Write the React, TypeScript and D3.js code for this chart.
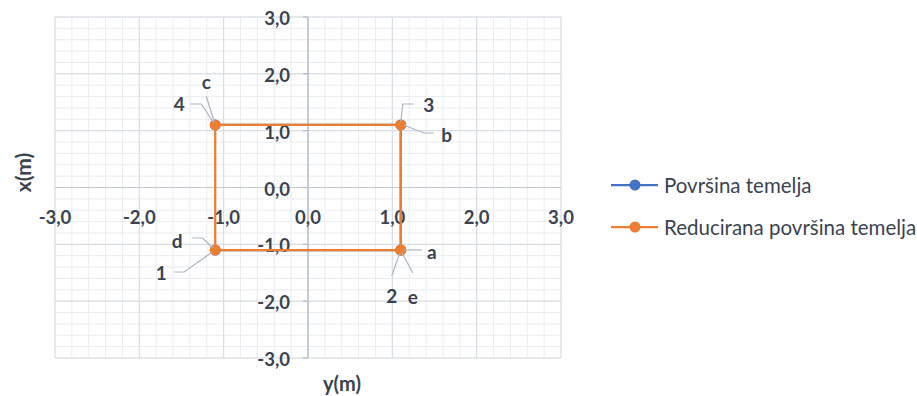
import React, { useEffect } from "react";
import * as d3 from "d3";

const ticks = [-3, -2, -1, 0, 1, 2, 3];
const tickLabels = ["-3,0", "-2,0", "-1,0", "0,0", "1,0", "2,0", "3,0"];

const seriesNames = ["Površina temelja", "Reducirana površina temelja"];

const blueX = [-1.1, 1.1, 1.1, -1.1];
const blueY = [-1.1, -1.1, 1.1, 1.1];
const blueLabels = ["1", "2", "3", "4"];

const orangeX = [1.1, 1.1, -1.1, -1.1, 1.1];
const orangeY = [-1.1, 1.1, 1.1, -1.1, -1.1];
const orangeLabels = ["a", "b", "c", "d", "e"];

// label layout (text offset + leader path offsets), relative to the point
const blueLabelLayout = [
  { tx: -54, ty: 22, path: [[-41, 22], [-31, 22], [-3, 2]] },
  { tx: -9, ty: 45, path: [[-9, 26], [-1, 3]] },
  { tx: 28, ty: -20, path: [[13, -21], [2, -21], [0, -3]] },
  { tx: -36, ty: -21, path: [[-25, -21], [-14, -21], [-2, -3]] },
];
const orangeLabelLayout = [
  { tx: 31, ty: 1, path: [[21, 0], [3, 0]] },
  { tx: 46, ty: 10, path: [[33, 8], [23, 8], [3, 0]] },
  { tx: -9, ty: -43, path: [[-9, -29], [-1, -3]] },
  { tx: -38, ty: -10, path: [[-23, -12], [-13, -12], [-2, -2]] },
  { tx: 12, ty: 46, path: [[12, 23], [1, 2]] },
];

const W = 917;
const H = 396;
const plot = { left: 55, right: 561, top: 17, bottom: 358 };
const textColor = "#3b4350";
const font = "Lato, 'Open Sans', sans-serif";
const BLUE = "#4472C4";
const ORANGE = "#ED7D31";
const LEADER = "#aeb6c1";

export default function App() {
  useEffect(() => {
    document.body.style.margin = "0";
  }, []);

  const x = d3.scaleLinear().domain([-3, 3]).range([plot.left, plot.right]);
  const y = d3.scaleLinear().domain([-3, 3]).range([plot.bottom, plot.top]);
  const minor = d3.range(-3, 3.0001, 0.2).map((v) => Math.round(v * 10) / 10);

  const line = d3
    .line<[number, number]>()
    .x((d) => x(d[0]))
    .y((d) => y(d[1]));

  const bluePts: [number, number][] = blueX.map((v, i) => [v, blueY[i]]);
  const orangePts: [number, number][] = orangeX.map((v, i) => [v, orangeY[i]]);

  const renderLabels = (
    pts: [number, number][],
    labels: string[],
    layout: { tx: number; ty: number; path: number[][] }[],
    key: string
  ) =>
    pts.map((p, i) => {
      const px = x(p[0]);
      const py = y(p[1]);
      const l = layout[i];
      const pathD =
        "M" + l.path.map((q) => `${px + q[0]},${py + q[1]}`).join("L");
      return (
        <g key={key + i}>
          <path d={pathD} fill="none" stroke={LEADER} strokeWidth={1.2} />
          <text
            x={px + l.tx}
            y={py + l.ty}
            textAnchor="middle"
            dominantBaseline="central"
            fontSize={19}
            fontWeight={700}
            fill={textColor}
            fontFamily={font}
          >
            {labels[i]}
          </text>
        </g>
      );
    });

  return (
    <svg width={W} height={H} style={{ display: "block", background: "#fff" }}>
      {/* minor grid */}
      {minor.map((v) => (
        <g key={"m" + v}>
          <line x1={x(v)} x2={x(v)} y1={plot.top} y2={plot.bottom} stroke="#e9ecf0" strokeWidth={1} />
          <line x1={plot.left} x2={plot.right} y1={y(v)} y2={y(v)} stroke="#e9ecf0" strokeWidth={1} />
        </g>
      ))}
      {/* major grid */}
      {ticks.map((v) => (
        <g key={"M" + v}>
          <line x1={x(v)} x2={x(v)} y1={plot.top} y2={plot.bottom} stroke="#d6dbe2" strokeWidth={1} />
          <line x1={plot.left} x2={plot.right} y1={y(v)} y2={y(v)} stroke="#d6dbe2" strokeWidth={1} />
        </g>
      ))}
      {/* axes */}
      <line x1={x(0)} x2={x(0)} y1={plot.top} y2={plot.bottom} stroke="#b4bcc8" strokeWidth={1.3} />
      <line x1={plot.left} x2={plot.right} y1={y(0)} y2={y(0)} stroke="#c4cad3" strokeWidth={1.2} />
      {ticks.map((v) => (
        <line key={"yt" + v} x1={x(0) - 5} x2={x(0)} y1={y(v)} y2={y(v)} stroke="#b4bcc8" strokeWidth={1.3} />
      ))}
      {ticks.map((v, i) => (
        <text
          key={"xl" + v}
          x={x(v)}
          y={y(0) + 29}
          textAnchor="middle"
          dominantBaseline="central"
          fontSize={18.5}
          fontWeight={700}
          fill={textColor}
          fontFamily={font}
        >
          {tickLabels[i]}
        </text>
      ))}
      {ticks.map((v, i) => (
        <text
          key={"yl" + v}
          x={x(0) - 18}
          y={y(v) + 1}
          textAnchor="end"
          dominantBaseline="central"
          fontSize={18.5}
          fontWeight={700}
          fill={textColor}
          fontFamily={font}
        >
          {tickLabels[i]}
        </text>
      ))}
      {/* axis titles */}
      <text
        transform={`translate(22,${(plot.top + plot.bottom) / 2 - 15}) rotate(-90)`}
        textAnchor="middle"
        dominantBaseline="central"
        fontSize={21}
        fontWeight={700}
        fill={textColor}
        fontFamily={font}
      >
        x(m)
      </text>
      <text
        x={342}
        y={383}
        textAnchor="middle"
        dominantBaseline="central"
        fontSize={20}
        fontWeight={700}
        fill={textColor}
        fontFamily={font}
      >
        y(m)
      </text>

      {/* series */}
      <path d={line(bluePts) || ""} fill="none" stroke={BLUE} strokeWidth={2.25} />
      {bluePts.map((p, i) => (
        <circle key={"bc" + i} cx={x(p[0])} cy={y(p[1])} r={5.5} fill={BLUE} />
      ))}
      <path d={line(orangePts) || ""} fill="none" stroke={ORANGE} strokeWidth={2.25} />
      {orangePts.map((p, i) => (
        <circle key={"oc" + i} cx={x(p[0])} cy={y(p[1])} r={5.5} fill={ORANGE} />
      ))}
      {renderLabels(bluePts, blueLabels, blueLabelLayout, "bl")}
      {renderLabels(orangePts, orangeLabels, orangeLabelLayout, "ol")}

      {/* legend */}
      {seriesNames.map((name, i) => {
        const cy = 185 + i * 42;
        const c = i === 0 ? BLUE : ORANGE;
        return (
          <g key={"lg" + i}>
            <line x1={611} x2={658} y1={cy} y2={cy} stroke={c} strokeWidth={2.25} />
            <circle cx={635} cy={cy} r={5.5} fill={c} />
            <text
              x={664}
              y={cy}
              dominantBaseline="central"
              fontSize={20.5}
              fill={textColor}
              fontFamily={font}
            >
              {name}
            </text>
          </g>
        );
      })}
    </svg>
  );
}
